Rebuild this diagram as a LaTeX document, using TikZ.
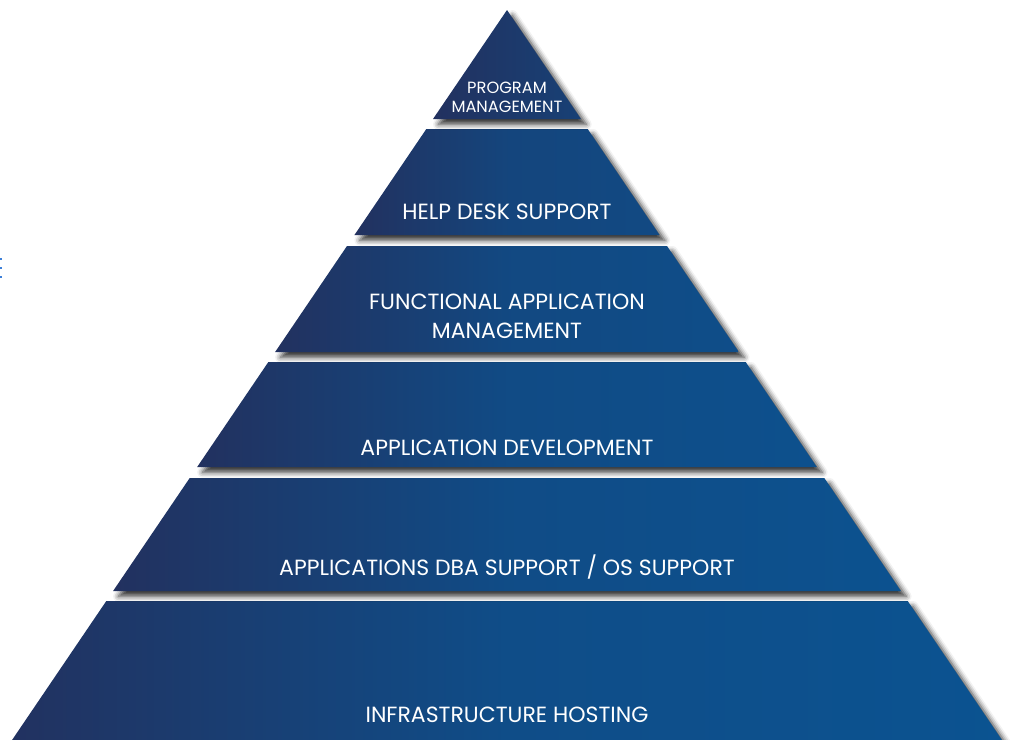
\documentclass[tikz,border=0pt]{standalone}
\usepackage{fontspec}
\setmainfont{Poppins}
\usetikzlibrary{shadows.blur}
\definecolor{pyrnavy}{HTML}{22315F}
\definecolor{pyrblue}{HTML}{0B5391}
\definecolor{pyrmark}{HTML}{3C7FD8}

\begin{document}
\begin{tikzpicture}[x=0.75pt,y=-0.75pt]

  \tikzstyle{tier}=[left color=pyrnavy,right color=pyrblue,shading angle=70,
                    blur shadow={shadow xshift=4pt,shadow yshift=-4pt,
                                 shadow blur radius=4pt,shadow opacity=80}]
  \tikzstyle{tier text}=[text=white,align=center,font=\fontsize{16.5}{21.75}\selectfont]

  \useasboundingbox (0,0) rectangle (1016,739);

  % bottom tier first, so that the shadows fall on the gaps
  \foreach \ya/\yb/\mix in {601/760/100,478/591/96,362/467/92,246/352/84,129/235/72}
    \path[tier,right color=pyrblue!\mix!pyrnavy,middle color=pyrblue!\mix!pyrnavy!82!pyrnavy]
      ({507-0.678*(\ya-10)},\ya) -- ({507+0.678*(\ya-10)},\ya)
      -- ({507+0.678*(\yb-10)},\yb) -- ({507-0.678*(\yb-10)},\yb) -- cycle;
  \path[tier,right color=pyrblue!45!pyrnavy] (507,10) -- (581,119) -- (433,119) -- cycle;

  \node[tier text,font=\fontsize{12.2}{14.25}\selectfont] (prog) at (507,97) {PROGRAM\\MANAGEMENT};
  \node[tier text] (help)  at (507,212) {HELP DESK SUPPORT};
  \node[tier text] (func)  at (507,316) {FUNCTIONAL APPLICATION\\MANAGEMENT};
  \node[tier text] (dev)   at (507,448) {APPLICATION DEVELOPMENT};
  \node[tier text] (dba)   at (507,567) {APPLICATIONS DBA SUPPORT / OS SUPPORT};
  \node[tier text] (infra) at (507,715) {INFRASTRUCTURE HOSTING};

  % cut-off marks at the left edge
  \foreach \ym in {259,268,277}
    \draw[pyrmark,line width=1pt] (0,\ym) -- (2,\ym);

\end{tikzpicture}
\end{document}
